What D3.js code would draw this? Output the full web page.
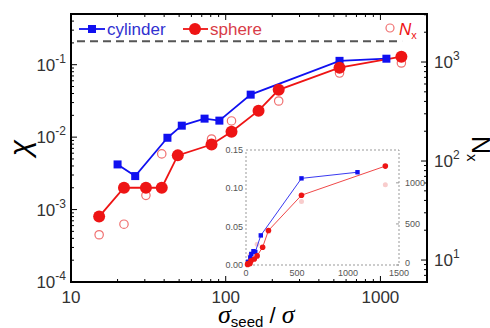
<!DOCTYPE html>
<html><head><meta charset="utf-8">
<script src="https://cdn.jsdelivr.net/npm/d3@7"></script>
<style>body{margin:0;background:#fff}svg{display:block}text{font-family:"Liberation Sans",Arial,sans-serif}</style>
</head><body><svg id="c" width="490" height="328"></svg>
<script>
// ---- data ----
const cylX = [20, 26, 42, 52, 73, 91, 145, 544, 1093];
const cylY = [0.0042, 0.0029, 0.0098, 0.0144, 0.018, 0.0169, 0.0386, 0.113, 0.121];
const sphX = [15.2, 22, 30.5, 38.6, 49, 81, 109, 163, 220, 544, 1366];
const sphY = [0.0008, 0.002, 0.002, 0.002, 0.0056, 0.0079, 0.0119, 0.0232, 0.045, 0.091, 0.129];
const nxX = [15.2, 22, 30.5, 38.6, 81, 109, 220, 544, 1366];
const nxY = [18, 23, 45, 118, 167, 254, 404, 774, 977];
const dashedChi = 0.21;
const dashedRange = [10, 1380];
const xTickLabels = ["10", "100", "1000"];
const xTickVals = [10, 100, 1000];
const yTickExp = [-4, -3, -2, -1];
const y2TickExp = [1, 2, 3];
const insetXTicks = [0, 500, 1000, 1500];
const insetYTicks = [0, 0.05, 0.10, 0.15];
const insetY2Ticks = [0, 500, 1000];

const svg = d3.select("#c");
const L = 71, R = 427, T = 14, B = 282;
const x = d3.scaleLog().domain([10, 2000]).range([L, R]);
const y = d3.scaleLog().domain([1e-4, Math.pow(10, -0.3)]).range([B, T]);
const y2 = d3.scaleLog().domain([6, 3055]).range([B, T]);

const blue = "#1010f0", red = "#ee1414", pink = "#f07070";

const g = svg.append("g");
function isMajor(v) { const l = Math.log10(v); return Math.abs(l - Math.round(l)) < 1e-6; }
x.ticks().forEach(v => {
  const len = isMajor(v) ? 6 : 3;
  g.append("line").attr("x1", x(v)).attr("x2", x(v)).attr("y1", B).attr("y2", B - len).attr("stroke", "#000").attr("stroke-width", 1);
  g.append("line").attr("x1", x(v)).attr("x2", x(v)).attr("y1", T).attr("y2", T + len).attr("stroke", "#000").attr("stroke-width", 1);
});
y.ticks().forEach(v => {
  const len = isMajor(v) ? 6 : 3;
  g.append("line").attr("x1", L).attr("x2", L + len).attr("y1", y(v)).attr("y2", y(v)).attr("stroke", "#000").attr("stroke-width", 1);
});
y2.ticks().forEach(v => {
  const len = isMajor(v) ? 6 : 3;
  g.append("line").attr("x1", R).attr("x2", R - len).attr("y1", y2(v)).attr("y2", y2(v)).attr("stroke", "#000").attr("stroke-width", 1);
});

svg.append("rect").attr("x", L).attr("y", T).attr("width", R - L).attr("height", B - T)
  .attr("fill", "none").attr("stroke", "#000").attr("stroke-width", 2);

xTickVals.forEach((v, i) => {
  svg.append("text").attr("x", x(v)).attr("y", 303).attr("text-anchor", "middle")
    .attr("font-size", 17).attr("fill", "#333").text(xTickLabels[i]);
});
yTickExp.forEach(e => {
  const t = svg.append("text").attr("x", 66).attr("y", y(Math.pow(10, e)) + 6).attr("text-anchor", "end")
    .attr("font-size", 17).attr("fill", "#333");
  t.append("tspan").text("10");
  t.append("tspan").attr("dy", -8).attr("font-size", 12).text(e);
});
y2TickExp.forEach(e => {
  const t = svg.append("text").attr("x", 434).attr("y", y2(Math.pow(10, e)) + 6)
    .attr("font-size", 17).attr("fill", "#333");
  t.append("tspan").text("10");
  t.append("tspan").attr("dy", -8).attr("font-size", 12).text(e);
});

const xt = svg.append("text").attr("x", 218).attr("y", 323).attr("fill", "#000");
xt.append("tspan").attr("font-family", "Liberation Serif").attr("font-style", "italic").attr("font-size", 26).text("σ");
xt.append("tspan").attr("dy", 4).attr("font-size", 15).text("seed");
xt.append("tspan").attr("dy", -4).attr("font-size", 22).text(" / ");
xt.append("tspan").attr("font-family", "Liberation Serif").attr("font-style", "italic").attr("font-size", 26).text("σ");

svg.append("text").attr("transform", "translate(30,148) rotate(-90)").attr("text-anchor", "middle")
  .attr("font-family", "Liberation Serif").attr("font-style", "italic").attr("font-size", 30).text("χ");

const nt = svg.append("text").attr("transform", "translate(472,136) rotate(90)").attr("font-size", 25).attr("fill", "#000");
nt.append("tspan").text("N");
nt.append("tspan").attr("dy", 5).attr("font-size", 15).text("x");

svg.append("line").attr("x1", x(dashedRange[0]) + 6).attr("x2", x(dashedRange[1]))
  .attr("y1", y(dashedChi)).attr("y2", y(dashedChi))
  .attr("stroke", "#555").attr("stroke-width", 2).attr("stroke-dasharray", "8,5");

nxX.forEach((v, i) => {
  svg.append("circle").attr("cx", x(v)).attr("cy", y2(nxY[i])).attr("r", 4.2)
    .attr("fill", "none").attr("stroke", pink).attr("stroke-width", 1.2);
});

const lineC = d3.line().x(d => x(d[0])).y(d => y(d[1]));
svg.append("path").attr("d", lineC(cylX.map((v, i) => [v, cylY[i]]))).attr("fill", "none").attr("stroke", blue).attr("stroke-width", 1.8);
svg.append("path").attr("d", lineC(sphX.map((v, i) => [v, sphY[i]]))).attr("fill", "none").attr("stroke", red).attr("stroke-width", 1.8);
cylX.forEach((v, i) => {
  svg.append("rect").attr("x", x(v) - 4).attr("y", y(cylY[i]) - 4).attr("width", 8).attr("height", 8).attr("fill", blue);
});
sphX.forEach((v, i) => {
  svg.append("circle").attr("cx", x(v)).attr("cy", y(sphY[i])).attr("r", 6).attr("fill", red);
});

svg.append("line").attr("x1", 79).attr("x2", 105).attr("y1", 29).attr("y2", 29).attr("stroke", blue).attr("stroke-width", 1.8);
svg.append("rect").attr("x", 88).attr("y", 25).attr("width", 8).attr("height", 8).attr("fill", blue);
svg.append("text").attr("x", 107).attr("y", 35).attr("font-size", 17).attr("fill", "#3030d0").text("cylinder");
svg.append("line").attr("x1", 183).attr("x2", 208).attr("y1", 29).attr("y2", 29).attr("stroke", red).attr("stroke-width", 1.8);
svg.append("circle").attr("cx", 195).attr("cy", 29).attr("r", 6).attr("fill", red);
svg.append("text").attr("x", 210).attr("y", 35).attr("font-size", 17).attr("fill", "#d83c48").text("sphere");
svg.append("circle").attr("cx", 390).attr("cy", 28).attr("r", 4).attr("fill", "none").attr("stroke", pink).attr("stroke-width", 1.2);
const lt = svg.append("text").attr("x", 399).attr("y", 35).attr("font-size", 17).attr("fill", red);
lt.append("tspan").attr("font-style", "italic").text("N");
lt.append("tspan").attr("dy", 4).attr("font-size", 11).text("x");

// ---- inset ----
const iL = 246, iR = 399, iT = 150, iB = 265;
const ix = d3.scaleLinear().domain([0, 1500]).range([iL, iR]);
const iy = d3.scaleLinear().domain([0, 0.15]).range([iB, iT]);
const iy2 = d3.scaleLinear().domain([0, 1400]).range([iB, iT]);
svg.append("rect").attr("x", iL).attr("y", iT).attr("width", iR - iL).attr("height", iB - iT)
  .attr("fill", "#fff").attr("stroke", "#999").attr("stroke-width", 1).attr("stroke-dasharray", "2,2");
insetXTicks.forEach(v => {
  svg.append("text").attr("x", ix(v)).attr("y", iB + 11).attr("text-anchor", "middle").attr("font-size", 9).attr("fill", "#555").text(v);
});
insetYTicks.forEach(v => {
  svg.append("text").attr("x", iL - 3).attr("y", iy(v) + 3).attr("text-anchor", "end").attr("font-size", 9).attr("fill", "#555").text(v.toFixed(2));
});
insetY2Ticks.forEach(v => {
  svg.append("text").attr("x", iR + 6).attr("y", iy2(v) + (v === 0 ? 1 : 3)).attr("font-size", 9).attr("fill", "#555").text(v);
  svg.append("line").attr("x1", iR).attr("x2", iR - 3).attr("y1", iy2(v)).attr("y2", iy2(v)).attr("stroke", "#999");
});
nxX.forEach((v, i) => {
  svg.append("circle").attr("cx", ix(v)).attr("cy", iy2(nxY[i])).attr("r", 2.5).attr("fill", "#f8cccc");
});
const il = d3.line().x(d => ix(d[0])).y(d => iy(d[1]));
svg.append("path").attr("d", il(cylX.map((v, i) => [v, cylY[i]]))).attr("fill", "none").attr("stroke", "#3a3af0").attr("stroke-width", 1);
svg.append("path").attr("d", il(sphX.map((v, i) => [v, sphY[i]]))).attr("fill", "none").attr("stroke", "#f04848").attr("stroke-width", 1);
cylX.forEach((v, i) => {
  svg.append("rect").attr("x", ix(v) - 2.2).attr("y", iy(cylY[i]) - 2.2).attr("width", 4.4).attr("height", 4.4).attr("fill", blue);
});
sphX.forEach((v, i) => {
  svg.append("circle").attr("cx", ix(v)).attr("cy", iy(sphY[i])).attr("r", 2.8).attr("fill", red);
});
</script></body></html>
